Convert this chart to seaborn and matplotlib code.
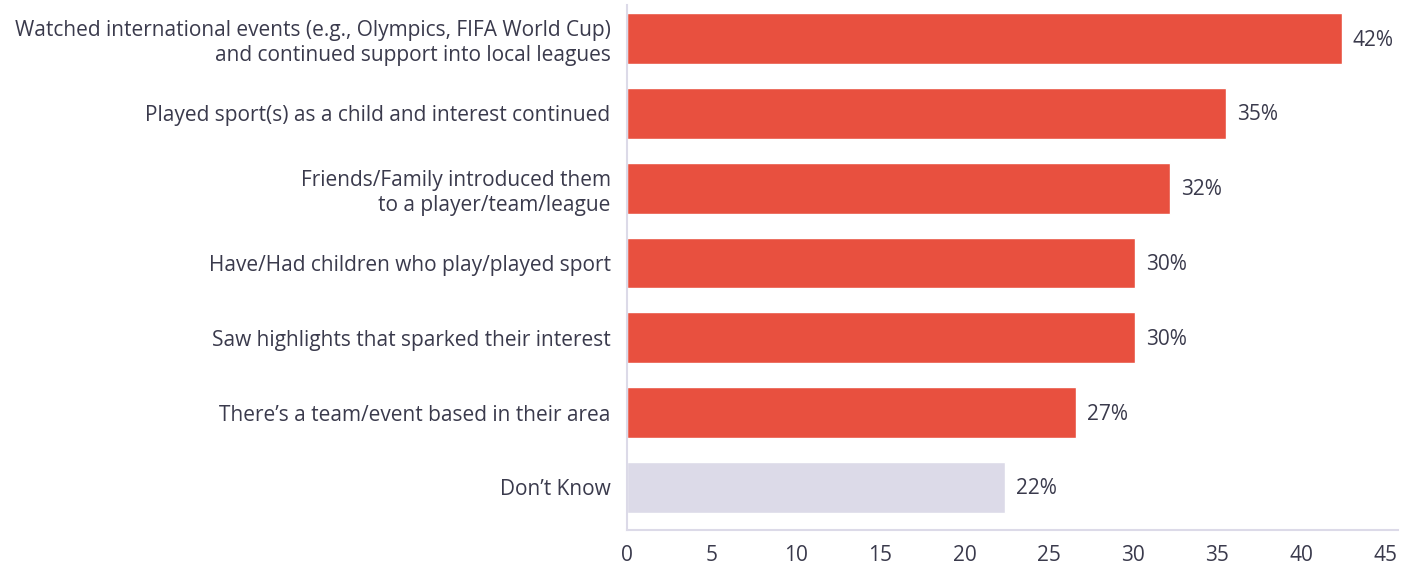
import matplotlib
matplotlib.use("Agg")
import matplotlib.pyplot as plt
import seaborn as sns
import pandas as pd

categories = [
    "Watched international events (e.g., Olympics, FIFA World Cup)\nand continued support into local leagues",
    "Played sport(s) as a child and interest continued",
    "Friends/Family introduced them\nto a player/team/league",
    "Have/Had children who play/played sport",
    "Saw highlights that sparked their interest",
    "There’s a team/event based in their area",
    "Don’t Know",
]
values = [42.4, 35.5, 32.2, 30.1, 30.1, 26.6, 22.4]
value_labels = ["42%", "35%", "32%", "30%", "30%", "27%", "22%"]
xticks = [0, 5, 10, 15, 20, 25, 30, 35, 40, 45]

RED = "#E8503F"
GREY = "#DCDAE8"
TEXT = "#3A3A4C"
AXIS = "#DCDAE8"
FS = 15

sns.set_style("white")
plt.rcParams["font.family"] = ["Open Sans", "DejaVu Sans"]

df = pd.DataFrame({"category": categories, "value": values})
colors = [RED] * 6 + [GREY]

fig = plt.figure(figsize=(14.16, 5.64), dpi=100)
ax = fig.add_axes([0.443, 0.0603, 0.544, 0.931])

sns.barplot(data=df, x="value", y="category", hue="category", palette=colors,
            legend=False, width=0.68, saturation=1, ax=ax)

for i, (v, lab) in enumerate(zip(values, value_labels)):
    ax.text(v + 0.65, i + 0.02, lab, va="center", ha="left", fontsize=FS, color=TEXT)

ax.set_xlim(0, 45.7)
ax.set_ylim(6.57, -0.45)
ax.set_xticks(xticks)
ax.set_xlabel("")
ax.set_ylabel("")
ax.tick_params(axis="both", length=0, labelsize=FS, labelcolor=TEXT)
ax.tick_params(axis="y", pad=12)
ax.tick_params(axis="x", pad=11)
for lbl in ax.get_yticklabels():
    lbl.set_horizontalalignment("right")
    lbl.set_multialignment("right")
    lbl.set_linespacing(1.25)

sns.despine(ax=ax, top=True, right=True)
for s in ["left", "bottom"]:
    ax.spines[s].set_color(AXIS)
    ax.spines[s].set_linewidth(1.5)

fig.savefig("out.png", dpi=100)
